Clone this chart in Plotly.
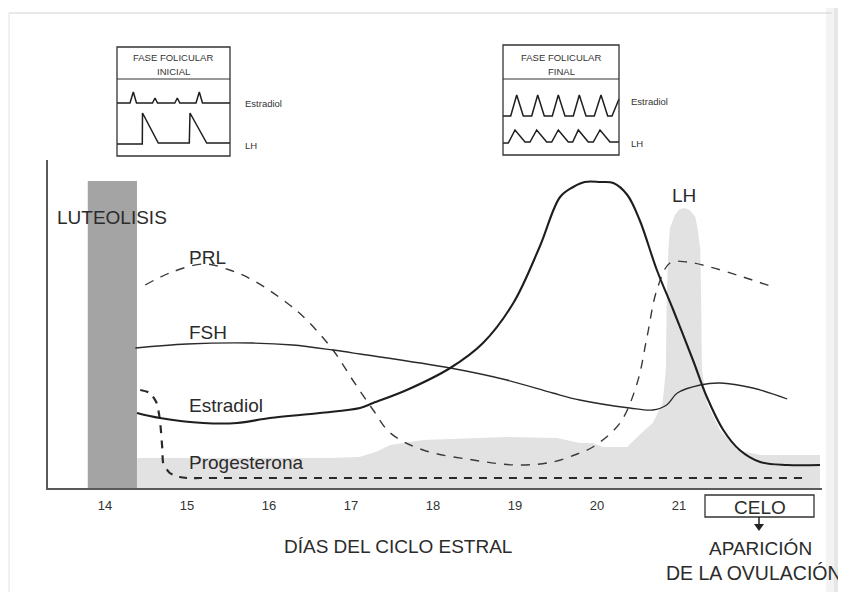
import plotly.graph_objects as go

# ---------------- data (arbitrary hormone units vs. day of oestrous cycle) ----------------
DAY_TICKS = [14, 15, 16, 17, 18, 19, 20, 21]
DAY_TICK_LABELS = ["14", "15", "16", "17", "18", "19", "20", "21"]

ESTRADIOL_DAY = [14.39, 14.67, 15.20, 15.61, 16.01, 16.62, 17.11, 17.27, 17.68, 18.21, 18.61, 18.98,
                 19.30, 19.55, 19.71, 19.85, 20.04, 20.20, 20.37, 20.52, 20.73, 20.93, 21.17, 21.34,
                 21.54, 21.74, 21.99, 22.32, 22.72]
ESTRADIOL = [75, 70, 65, 65, 70, 75, 80, 85, 98, 120, 145, 185, 241, 291, 301, 306, 306, 305, 293,
             268, 218, 178, 128, 91, 58, 38, 26, 23, 23]

FSH_DAY = [14.37, 15.00, 15.80, 16.29, 16.78, 17.11, 18.21, 18.90, 19.46, 19.79, 20.40, 20.68,
           20.85, 20.98, 21.26, 21.50, 21.90, 22.32]
FSH = [140, 144, 145, 143, 138, 134, 120, 108, 95, 88, 80, 78, 83, 95, 103, 105, 100, 89]

PRL_DAY = [14.49, 14.79, 15.20, 15.52, 15.80, 16.22, 16.46, 16.78, 17.02, 17.27, 17.48, 17.88,
           18.49, 19.02, 19.46, 19.79, 19.95, 20.28, 20.49, 20.61, 20.73, 20.89, 21.10, 21.38,
           21.78, 22.15]
PRL = [203, 215, 224, 218, 208, 185, 168, 138, 108, 78, 55, 38, 28, 23, 26, 35, 41, 65, 105, 151,
       198, 225, 226, 221, 211, 201]

PROG_DAY = [14.43, 14.55, 14.63, 14.67, 14.70, 14.71, 14.79, 14.91, 15.00, 15.16, 22.54]
PROG = [98, 95, 85, 68, 38, 25, 15, 11, 10, 10, 10]

LH_DAY = [14.39, 16.74, 17.10, 17.30, 17.48, 17.88, 18.90, 19.51, 19.79, 19.95, 20.07, 20.37,
          20.49, 20.68, 20.80, 20.84, 20.85, 20.87, 20.89, 20.95, 21.01, 21.07, 21.13, 21.20,
          21.23, 21.26, 21.27, 21.28, 21.34, 21.50, 21.71, 21.99, 22.72]
LH = [30, 30, 31, 36, 43, 48, 51, 50, 45, 45, 41, 41, 51, 65, 85, 118, 188, 238, 260, 273, 279,
      280, 278, 271, 258, 238, 188, 118, 85, 58, 38, 33, 33]

LUTEOLISIS_DAYS = [13.79, 14.39]
LUTEOLISIS_LEVEL = 307

# inset: early follicular phase (pulses)
INI_T_E = [0, 13, 16.3, 19.5, 35.5, 38, 40.5, 57.8, 60.3, 62.8, 79, 82.3, 85.5, 113]
INI_E = [53, 53, 64, 53, 53, 58, 53, 53, 58, 53, 53, 64, 53, 53]
INI_T_LH = [0, 25.3, 25.5, 41.3, 72.3, 73, 89.7, 113]
INI_LH = [12, 12, 43, 13, 13, 43, 13, 13]
# inset: late follicular phase
FIN_T_E = [0, 7.7, 13.7, 20.3, 28.7, 34.7, 41.3, 49.3, 55.3, 62, 70.3, 76.3, 83, 91.3, 98, 104.7, 109, 116]
FIN_E = [39, 39, 60, 39, 39, 60, 39, 39, 60, 39, 39, 60, 39, 39, 60, 39, 39, 56]
FIN_T_LH = [0, 5.3, 12, 22, 27, 33.7, 43.7, 48.7, 55.3, 65.3, 69.7, 75.3, 85.3, 90.3, 97, 107, 116]
FIN_LH = [12, 12, 25, 13, 13, 25, 13, 13, 25, 13, 13, 25, 13, 13, 25, 13, 13]

# ---------------- figure ----------------
# the page body has an 8px margin, so the figure is placed 8px in and sized to fill the rest
OFF = 8
W, H = 846 - OFF, 592 - OFF
FONT = "Arial, Liberation Sans, Helvetica, sans-serif"
TXT = "#2b2b2b"
INK = "#1e1e1e"


def px(x):
    return (x - OFF) / W


def py(y):
    return 1 - (y - OFF) / H


fig = go.Figure()

# LH surge (light grey area)
fig.add_trace(go.Scatter(x=LH_DAY, y=LH, mode="lines", fill="tozeroy", fillcolor="#e2e2e2",
                         line=dict(width=0, color="#e2e2e2"), hoverinfo="skip", showlegend=False))
# Progesterone
fig.add_trace(go.Scatter(x=PROG_DAY, y=PROG, mode="lines",
                         line=dict(color="#2a2a2a", width=2.2, dash="8px,7px", shape="spline", smoothing=0.6),
                         showlegend=False))
# PRL
fig.add_trace(go.Scatter(x=PRL_DAY, y=PRL, mode="lines",
                         line=dict(color="#3a3a3a", width=1.4, dash="9px,8px", shape="spline", smoothing=1.0),
                         showlegend=False))
# FSH
fig.add_trace(go.Scatter(x=FSH_DAY, y=FSH, mode="lines",
                         line=dict(color="#2a2a2a", width=1.3, shape="spline", smoothing=1.0),
                         showlegend=False))
# Estradiol
fig.add_trace(go.Scatter(x=ESTRADIOL_DAY, y=ESTRADIOL, mode="lines",
                         line=dict(color=INK, width=2.1, shape="spline", smoothing=1.0),
                         showlegend=False))

# insets
for t, v in [(INI_T_E, INI_E), (INI_T_LH, INI_LH)]:
    fig.add_trace(go.Scatter(x=t, y=v, mode="lines", xaxis="x2", yaxis="y2",
                             line=dict(color=INK, width=1.5), showlegend=False))
for t, v in [(FIN_T_E, FIN_E), (FIN_T_LH, FIN_LH)]:
    fig.add_trace(go.Scatter(x=t, y=v, mode="lines", xaxis="x3", yaxis="y3",
                             line=dict(color=INK, width=1.5), showlegend=False))

hidden = dict(visible=False, fixedrange=True)
fig.update_layout(
    width=W, height=H, margin=dict(l=0, r=0, t=0, b=0),
    paper_bgcolor="white", plot_bgcolor="rgba(0,0,0,0)",
    font=dict(family=FONT, color=TXT),
    xaxis=dict(domain=[px(48), px(822)], range=[13.305, 22.744], showgrid=False, zeroline=False,
               showline=True, linecolor="#5a5a5a", linewidth=1.6,
               tickvals=DAY_TICKS, ticktext=DAY_TICK_LABELS, ticks="", ticklabelstandoff=5,
               tickfont=dict(size=13, color="#333333", family=FONT)),
    yaxis=dict(domain=[py(488), py(160)], range=[0, 328], showgrid=False, zeroline=False,
               showline=True, linecolor="#5a5a5a", linewidth=1.6, showticklabels=False, ticks=""),
    xaxis2=dict(domain=[px(116), px(231)], range=[-1, 114], anchor="y2", **hidden),
    yaxis2=dict(domain=[py(157), py(46)], range=[-1, 110], anchor="x2", **hidden),
    xaxis3=dict(domain=[px(502), px(620)], range=[-1, 117], anchor="y3", **hidden),
    yaxis3=dict(domain=[py(156), py(44)], range=[-1, 111], anchor="x3", **hidden),
)

shapes = [
    # luteolysis bar
    dict(type="rect", xref="x", yref="y", x0=LUTEOLISIS_DAYS[0], x1=LUTEOLISIS_DAYS[1], y0=0,
         y1=LUTEOLISIS_LEVEL, fillcolor="#a4a4a4", line=dict(width=0), layer="below"),
    # inset frames
    dict(type="rect", xref="x2", yref="y2", x0=0, x1=113, y0=0, y1=109, line=dict(color="#333", width=1.3)),
    dict(type="line", xref="x2", yref="y2", x0=0, x1=113, y0=77, y1=77, line=dict(color="#333", width=1.2)),
    dict(type="rect", xref="x3", yref="y3", x0=0, x1=116, y0=0, y1=110, line=dict(color="#333", width=1.3)),
    dict(type="line", xref="x3", yref="y3", x0=0, x1=116, y0=76, y1=76, line=dict(color="#333", width=1.2)),
    # CELO box + arrow
    dict(type="rect", xref="paper", yref="paper", x0=px(705), x1=px(814), y0=py(517), y1=py(495),
         line=dict(color="#333", width=1.3)),
    dict(type="line", xref="paper", yref="paper", x0=px(759), x1=px(759), y0=py(517), y1=py(525),
         line=dict(color="#222", width=1.5)),
    dict(type="path", xref="paper", yref="paper",
         path=f"M {px(754)} {py(524)} L {px(764)} {py(524)} L {px(759)} {py(531)} Z",
         fillcolor="#222", line=dict(width=0)),
    # scanned page edges
    dict(type="line", xref="paper", yref="paper", x0=px(9), x1=px(832), y0=py(13), y1=py(13),
         line=dict(color="#d2d2d2", width=1)),
    dict(type="line", xref="paper", yref="paper", x0=px(9), x1=px(9), y0=py(13), y1=0,
         line=dict(color="#e2e2e2", width=1)),
    dict(type="rect", xref="paper", yref="paper", x0=px(826), x1=px(834), y0=0, y1=1,
         fillcolor="#f3f3f3", line=dict(width=0), layer="below"),
    dict(type="rect", xref="paper", yref="paper", x0=px(834), x1=1, y0=0, y1=1,
         fillcolor="#e6e6e6", line=dict(width=0), layer="below"),
]
fig.update_layout(shapes=shapes)


def label(text, x, y, size=19, xanchor="left", yanchor="middle", color=TXT):
    fig.add_annotation(text=text, x=px(x), y=py(y), xref="paper", yref="paper", showarrow=False,
                       xanchor=xanchor, yanchor=yanchor, font=dict(size=size, color=color, family=FONT))


label("LUTEOLISIS", 55, 217)
label("PRL", 187, 257)
label("FSH", 187, 333)
label("Estradiol", 187, 405)
label("Progesterona", 187, 463)
label("LH", 684, 195, xanchor="center")
label("DÍAS DEL CICLO ESTRAL", 398, 546, xanchor="center")
label("CELO", 760, 507, xanchor="center")
label("APARICIÓN", 760, 548, xanchor="center")
label("DE LA OVULACIÓN", 754, 573, xanchor="center", size=19.5)

# inset texts
label("FASE FOLICULAR", 173, 57, size=9.5, xanchor="center", color="#333")
label("INICIAL", 173, 71, size=9.5, xanchor="center", color="#333")
label("Estradiol", 243, 103, size=9.5, color="#333")
label("LH", 243, 145, size=9.5, color="#333")
label("FASE FOLICULAR", 561, 57, size=9.5, xanchor="center", color="#333")
label("FINAL", 561, 71, size=9.5, xanchor="center", color="#333")
label("Estradiol", 629, 102, size=9.5, color="#333")
label("LH", 629, 143, size=9.5, color="#333")

fig.write_html("out.html")
